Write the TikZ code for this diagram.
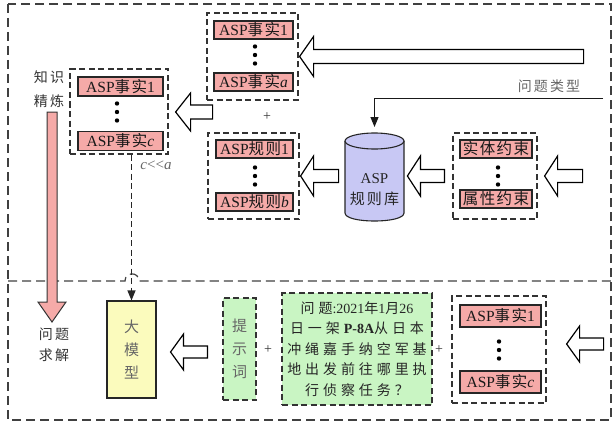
\documentclass[tikz,border=0pt]{standalone}
\usepackage{fontspec}
\setmainfont{Liberation Serif}
\newfontfamily\cjk[LetterSpace=15]{Noto Sans CJK SC}
\newfontfamily\cjkr[LetterSpace=9]{Noto Sans CJK SC}
\newfontfamily\cjkq[LetterSpace=28]{Noto Sans CJK SC}
\usetikzlibrary{arrows.meta,calc}

\definecolor{redfill}{RGB}{245,170,168}
\definecolor{cylfill}{RGB}{200,200,244}
\definecolor{llmfill}{RGB}{251,251,189}
\definecolor{greenfill}{RGB}{201,245,195}

\newcommand\zh[1]{{\cjk #1}}
\newcommand\zr[1]{{\cjkr #1}}
\newcommand\zq[1]{{\cjkq #1}}

% left-pointing hollow block arrow: tip, total length, head length, head half-width, shaft half-width
\newcommand\blockL[5]{%
  \draw[blk] #1 -- ++(#3,-#4) -- ++(0,{#4-#5}) -- ++({#2-#3},0)
    -- ++(0,{2*#5}) -- ++({#3-#2},0) -- ++(0,{#4-#5}) -- cycle;}

% three stacked dots
\newcommand\vdotsat[2]{%
  \fill (#1,#2-8.5) circle[radius=2.2pt];
  \fill (#1,#2) circle[radius=2.2pt];
  \fill (#1,#2+8.5) circle[radius=2.2pt];}

\tikzset{
  redbox/.style={draw=black!85, line width=1.1pt, fill=redfill, inner sep=0pt,
    minimum height=18pt, text=black!90, font=\fontsize{15.5}{15.5}\selectfont},
  groupbox/.style={draw=black!80, line width=1.2pt, dash pattern=on 6pt off 3.5pt, inner sep=0pt},
  frame/.style={draw=black!75, line width=1.2pt, dash pattern=on 9pt off 5pt},
  blk/.style={draw=black, line width=1.2pt, fill=white, line join=miter},
  label/.style={text=black!80, align=center},
  softlabel/.style={text=black!60, align=center},
  plus/.style={text=black!80, font=\fontsize{14}{14}\selectfont},
}

\begin{document}
\begin{tikzpicture}[x=1pt,y=-1pt]
\useasboundingbox (0,0) rectangle (612,425);

% outer frame and the line between the two stages (with a hop over the connector)
\draw[frame] (8,4) rectangle (611,420);
\draw[frame] (8,281) -- (125,281) .. controls (125,271.5) and (139,271.5) .. (139,281) -- (611,281);

% knowledge refinement arrow
\draw[fill=redfill, draw=black!80, line width=1pt, line join=miter]
  (47,112) -- (47,302) -- (38,302) -- (52,322) -- (66,302) -- (57,302) -- (57,112) -- cycle;
\node[label, font=\fontsize{14}{24}\selectfont] (refine) at (49,89) {\zh{知识}\\\zh{精炼}};
\node[label, font=\fontsize{14}{21}\selectfont] (solve) at (54,345) {\zh{问题}\\\zh{求解}};

% ASP facts a
\node[groupbox, minimum width=91pt, minimum height=87pt] (gA) at (252.5,56.5) {};
\node[redbox, minimum width=79pt] (fa1) at (253.5,30) {ASP\zr{事实}1};
\node[redbox, minimum width=79pt] (faa) at (253.5,82) {ASP\zr{事实}\textit{a}};
\vdotsat{255}{55}

% ASP rules b
\node[groupbox, minimum width=91pt, minimum height=86pt] (gB) at (253.5,176) {};
\node[redbox, minimum width=77pt] (r1) at (254.5,149) {ASP\zr{规则}1};
\node[redbox, minimum width=77pt] (rb) at (254.5,202) {ASP\zr{规则}\textit{b}};
\vdotsat{255}{176}
\node[plus] (plusAB) at (267,117) {+};

% refined facts c
\node[groupbox, minimum width=98pt, minimum height=85pt] (gC) at (119,111.5) {};
\node[redbox, minimum width=85pt, minimum height=19pt] (fc1) at (120.5,86.5) {ASP\zr{事实}1};
\node[redbox, minimum width=85pt, minimum height=19pt] (fcc) at (120.5,141) {ASP\zr{事实}\textit{c}};
\vdotsat{117}{112}
\node[softlabel, font=\fontsize{15}{15}\selectfont] (ratio) at (156,165) {\textit{c}{<}{<}\textit{a}};

% constraints
\node[groupbox, minimum width=84pt, minimum height=86pt] (gD) at (495,176) {};
\node[redbox, minimum width=72pt] (c1) at (496,149) {\zr{实体约束}};
\node[redbox, minimum width=72pt] (c2) at (496,199) {\zr{属性约束}};
\vdotsat{498}{176}

% rule base cylinder
\fill[cylfill] (345,141) -- (345,213) .. controls (345,223.7) and (404,223.7) .. (404,213)
  -- (404,141) -- cycle;
\draw[black!85, line width=1.1pt] (345,141) -- (345,213) .. controls (345,223.7) and (404,223.7) .. (404,213) -- (404,141);
\draw[black!85, line width=1.1pt, fill=cylfill] (374.5,141) ellipse[x radius=29.5, y radius=8];
\node[label, text=black!85, font=\fontsize{15}{21}\selectfont] (cyl) at (374.5,190) {ASP\\\zh{规则库}};
\coordinate (cyltop) at (374.5,133);

% question type input
\coordinate (qin) at (603,99);
\node[softlabel, font=\fontsize{14}{14}\selectfont] (qtype) at (549,86) {\zh{问题类型}};
\draw[line width=1pt, black!90, -{Triangle[length=10pt,width=8pt]}, shorten >=6pt]
  (qin) -- (qin -| cyltop) -- (cyltop);

% block arrows of the first stage
\blockL{($(gA.east)+(1,0)$)}{284}{14}{20}{7}
\blockL{($(gC.east)+(7,0.5)$)}{37}{15}{19}{7}
\blockL{($(gB.east)+(1,0)$)}{38}{13}{20}{6.5}
\blockL{($(gD.west)+(-45,0)$)}{37}{13}{20}{6.5}
\blockL{($(gD.east)+(7,0)$)}{38}{13}{20}{6.5}

% second stage
\node[draw=black!85, line width=1.1pt, fill=llmfill, minimum width=49pt, minimum height=97pt,
  softlabel, font=\fontsize{15}{23}\selectfont] (llm) at (131.5,349.5) {\zh{大}\\\zh{模}\\\zh{型}};
\draw[black!85, line width=1.2pt, dash pattern=on 6pt off 3.5pt, -{Triangle[length=10pt,width=8pt]}]
  (gC.south -| llm.north) -- (llm.north);

\node[groupbox, fill=greenfill, minimum width=33pt, minimum height=102pt,
  softlabel, font=\fontsize{15}{23}\selectfont] (prompt) at (239.5,349) {\zh{提}\\\zh{示}\\\zh{词}};
\node[plus] (plusPQ) at (268,350) {+};
\node[groupbox, fill=greenfill, minimum width=150pt, minimum height=112pt,
  text=black!85, align=center, font=\fontsize{14}{20.5}\selectfont] (question) at (357,349)
  {\zq{问题}:2021\zq{年}1\zq{月}26\\
   \zq{日一架}\textbf{P-8A}\zq{从日本}\\
   \zq{冲绳嘉手纳空军基}\\
   \zq{地出发前往哪里执}\\
   \zq{行侦察任务？}};
\node[plus] (plusQE) at (439,350) {+};

\node[groupbox, minimum width=94pt, minimum height=107pt] (gE) at (499,349.5) {};
\node[redbox, minimum width=81pt, minimum height=22pt] (e1) at (500.5,316) {ASP\zr{事实}1};
\node[redbox, minimum width=81pt, minimum height=22pt] (ec) at (500.5,382) {ASP\zr{事实}\textit{c}};
\vdotsat{499}{350}

\blockL{($(llm.east)+(14,2.5)$)}{37}{13}{18}{6}
\blockL{($(gE.east)+(20,-5.5)$)}{37}{13}{18}{6}
\end{tikzpicture}
\end{document}
